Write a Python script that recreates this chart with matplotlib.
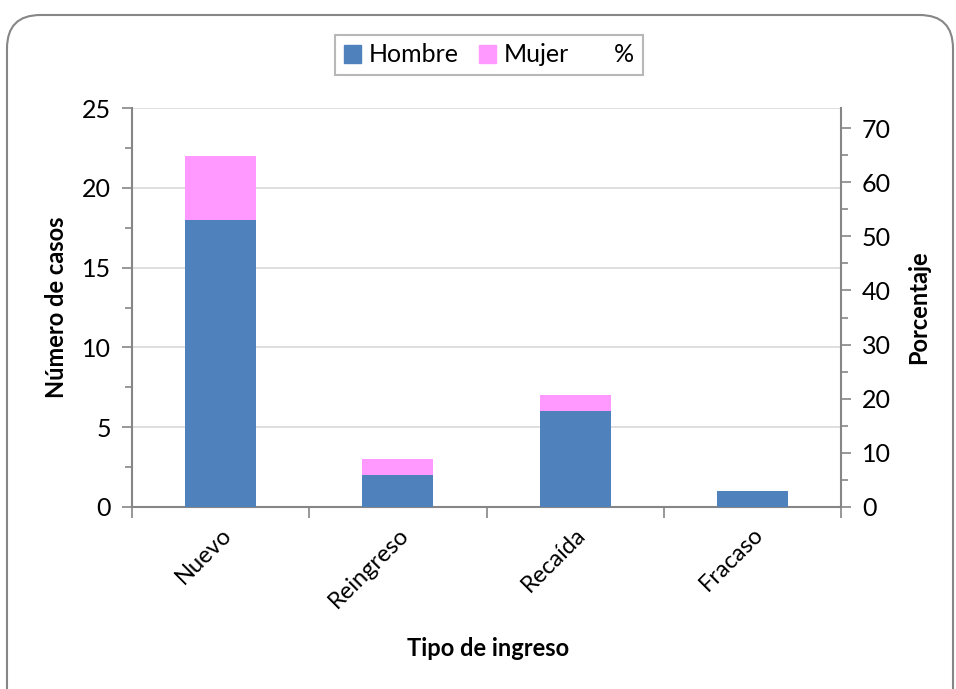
import matplotlib
matplotlib.use("Agg")
import matplotlib.pyplot as plt
from matplotlib.patches import FancyBboxPatch, Patch
from matplotlib.lines import Line2D
from matplotlib.ticker import MultipleLocator
import numpy as np

# datos
categorias = ["Nuevo", "Reingreso", "Recaída", "Fracaso"]
hombre = [18, 2, 6, 1]
mujer = [4, 1, 1, 0]

plt.rcParams["font.family"] = ["Lato", "DejaVu Sans"]

fig = plt.figure(figsize=(9.56, 6.89), dpi=100)
ax = fig.add_axes([132 / 956, 1 - 507 / 689, (841 - 132) / 956, (507 - 108) / 689])

# borde redondeado del grafico
borde = FancyBboxPatch((7 / 956, -0.05), 946 / 956, 1 - 15 / 689 + 0.05,
                       boxstyle="round,pad=0,rounding_size=0.035",
                       transform=fig.transFigure, fill=False,
                       edgecolor="#868686", linewidth=1.5, mutation_aspect=956 / 689)
fig.patches.append(borde)

x = np.arange(len(categorias))
azul = "#4F81BD"
rosa = "#FF99FF"
ax.bar(x, hombre, width=0.4, color=azul, zorder=3)
ax.bar(x, mujer, width=0.4, bottom=hombre, color=rosa, zorder=3)

ax.set_xlim(-0.5, len(categorias) - 0.5)
ax.set_ylim(0, 25)
ax.yaxis.set_major_locator(MultipleLocator(5))
ax.yaxis.set_minor_locator(MultipleLocator(2.5))
ax.grid(axis="y", which="major", color="#D9D9D9", linewidth=1.2, zorder=0)

ax.set_xticks(np.arange(len(categorias) + 1) - 0.5)
ax.set_xticklabels([])
ax.set_xticks(x, minor=True)
ax.set_xticklabels(categorias, minor=True, rotation=45, ha="right",
                   rotation_mode="anchor", fontsize=17)
ax.tick_params(axis="x", which="minor", length=0, pad=12)
ax.tick_params(axis="x", which="major", length=8, width=1.2, color="#868686")
ax.tick_params(axis="y", which="major", length=7, width=1.2, color="#868686",
               labelsize=18, pad=8)
ax.tick_params(axis="y", which="minor", length=5, width=1.2, color="#868686")

for lado in ["top", "right"]:
    ax.spines[lado].set_visible(False)
for lado in ["left", "bottom"]:
    ax.spines[lado].set_color("#868686")
    ax.spines[lado].set_linewidth(1.5)

ax2 = ax.twinx()
ax2.set_ylim(0, 73.7)
ax2.yaxis.set_major_locator(MultipleLocator(10))
ax2.yaxis.set_minor_locator(MultipleLocator(5))
ax2.tick_params(axis="y", which="major", length=7, width=1.2, color="#868686",
                labelsize=18, pad=8)
ax2.tick_params(axis="y", which="minor", length=5, width=1.2, color="#868686")
for lado in ["top", "left", "bottom"]:
    ax2.spines[lado].set_visible(False)
ax2.spines["right"].set_color("#868686")
ax2.spines["right"].set_linewidth(1.5)

ax.set_ylabel("Número de casos", fontsize=17, fontweight="bold", labelpad=10)
ax2.set_ylabel("Porcentaje", fontsize=17, fontweight="bold", labelpad=12)
fig.text(488 / 956, 1 - 648 / 689, "Tipo de ingreso", fontsize=17,
         fontweight="bold", ha="center", va="center")

handles = [Patch(color=azul), Patch(color=rosa), Line2D([], [], color="none")]
leg = fig.legend(handles, ["Hombre", "Mujer", "%"], loc="center",
                 bbox_to_anchor=(489 / 956, 1 - 55 / 689), ncol=3, fontsize=18,
                 frameon=True, fancybox=False, edgecolor="#A6A6A6",
                 handlelength=0.7, handleheight=0.7, handletextpad=0.3,
                 columnspacing=0.8, borderpad=0.35)
leg.get_frame().set_linewidth(1.5)

fig.savefig("out.png", dpi=100)
